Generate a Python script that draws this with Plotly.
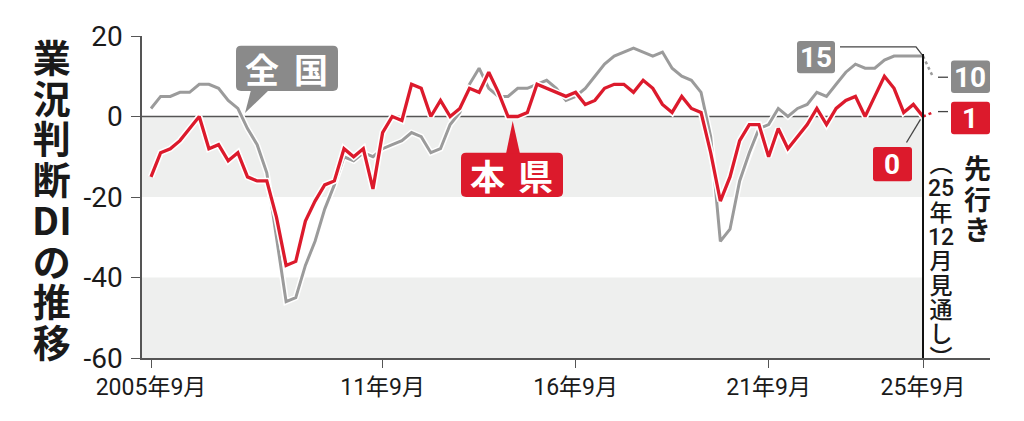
import plotly.graph_objects as go

# ---- data (quarterly, 2005年9月 .. 2025年9月) ----
honken = [-15, -9, -8, -6, -3, 0, -8, -7, -11, -9,
          -15, -16, -16, -25, -37, -36, -26, -21, -17, -16,
          -8, -10, -8, -18, -4, 0, -1, 8, 7, 0,
          4, 0, 2, 7, 6, 11, 6, 0, 0, 1,
          8, 7, 6, 5, 6, 3, 4, 7, 8, 8,
          6, 9, 7, 3, 1, 5, 2, 1, -9, -21,
          -15, -6, -2, -2, -10, -3, -8, -5, -2, 2,
          -2, 2, 4, 5, 0, 5, 10, 7, 1, 3,
          0]
zenkoku = [2, 5, 5, 6, 6, 8, 8, 7, 4, 2,
           -3, -7, -14, -30, -46, -45, -37, -31, -23, -17,
           -10, -11, -9, -10, -8, -7, -6, -4, -5, -9,
           -8, -2, 1, 8, 12, 7, 5, 5, 7, 7,
           8, 9, 7, 4, 5, 7, 10, 13, 15, 16,
           17, 16, 15, 16, 12, 10, 9, 6, -5, -31,
           -28, -16, -9, -3, -2, 2, 0, 2, 3, 6,
           5, 8, 11, 13, 12, 12, 14, 15, 15, 15,
           15]
honken_forecast = [0, 1]      # 25年9月 -> 25年12月見通し
zenkoku_forecast = [15, 10]
tick_pos = [0, 24, 44, 64, 80]
tick_labels = ["2005年9月", "11年9月", "16年9月", "21年9月", "25年9月"]
y_ticks = [20, 0, -20, -40, -60]
y_tick_labels = ["20", "0", "-20", "-40", "-60"]

RED = "#dc1a2c"
GRAY = "#9b9b9b"
BOXGRAY = "#8a8a8a"
BAND = "#eeefee"
CJK = "Noto Sans CJK JP"
NUM = "Roboto, Noto Sans CJK JP"

# plot area in (reference) window pixels
L, R, T, B = 142, 990, 30, 358
OFF = 8                     # page body margin
W, H = 1024 - 2 * OFF, 421 - 2 * OFF
XR = [(L - 151) / 9.65, (R - 151) / 9.65]


def X(px):
    return (px - L) / (R - L)


def Y(py):
    return (B - py) / (B - T)


def rrect(x0, y0, x1, y1, r=4):
    return (f"M {X(x0+r)} {Y(y0)} L {X(x1-r)} {Y(y0)} Q {X(x1)} {Y(y0)} {X(x1)} {Y(y0+r)} "
            f"L {X(x1)} {Y(y1-r)} Q {X(x1)} {Y(y1)} {X(x1-r)} {Y(y1)} "
            f"L {X(x0+r)} {Y(y1)} Q {X(x0)} {Y(y1)} {X(x0)} {Y(y1-r)} "
            f"L {X(x0)} {Y(y0+r)} Q {X(x0)} {Y(y0)} {X(x0+r)} {Y(y0)} Z")


def poly(pts):
    return "M " + " L ".join(f"{X(a)} {Y(b)}" for a, b in pts) + " Z"


xs = list(range(len(honken)))
xf = [xs[-1], xs[-1] + 1]

fig = go.Figure()
# gray (全国)
fig.add_trace(go.Scatter(x=xs, y=zenkoku, mode="lines", line=dict(color="white", width=6),
                         hoverinfo="skip", showlegend=False))
fig.add_trace(go.Scatter(x=xs, y=zenkoku, mode="lines", line=dict(color=GRAY, width=3),
                         name="全国", showlegend=False))
fig.add_trace(go.Scatter(x=xf, y=zenkoku_forecast, mode="lines",
                         line=dict(color=GRAY, width=2.5, dash="dot"), showlegend=False))
# red (本県)
fig.add_trace(go.Scatter(x=xs, y=honken, mode="lines", line=dict(color="white", width=6.5),
                         hoverinfo="skip", showlegend=False))
fig.add_trace(go.Scatter(x=xs, y=honken, mode="lines", line=dict(color=RED, width=3.3),
                         name="本県", showlegend=False))
fig.add_trace(go.Scatter(x=xf, y=honken_forecast, mode="lines",
                         line=dict(color=RED, width=2.5, dash="dot"), showlegend=False))

shapes = []
for y0, y1 in [(-20, 0), (-60, -40)]:
    shapes.append(dict(type="rect", xref="x", yref="y", x0=XR[0], x1=80, y0=y0, y1=y1,
                       fillcolor=BAND, line=dict(width=0), layer="below"))
shapes.append(dict(type="line", xref="x", yref="y", x0=XR[0], x1=80, y0=0, y1=0,
                   line=dict(color="#555555", width=1.5), layer="below"))
shapes.append(dict(type="line", xref="x", yref="y", x0=80, x1=80, y0=-60, y1=15.5,
                   line=dict(color="#111111", width=2)))

# label boxes
shapes.append(dict(type="path", xref="paper", yref="paper", path=rrect(236, 40, 338, 86, 5),
                   fillcolor=BOXGRAY, line=dict(width=0)))
shapes.append(dict(type="path", xref="paper", yref="paper",
                   path=poly([(251, 85), (269, 85), (245, 108.5)]), fillcolor=BOXGRAY, line=dict(width=0)))
shapes.append(dict(type="path", xref="paper", yref="paper", path=rrect(461, 149, 563, 194, 5),
                   fillcolor=RED, line=dict(width=0)))
shapes.append(dict(type="path", xref="paper", yref="paper",
                   path=poly([(506, 150), (520, 150), (512.7, 116.5)]), fillcolor=RED, line=dict(width=0)))
shapes.append(dict(type="path", xref="paper", yref="paper", path=rrect(797, 35, 835, 68, 3),
                   fillcolor=BOXGRAY, line=dict(width=0)))
shapes.append(dict(type="path", xref="paper", yref="paper", path=rrect(951, 55, 990, 88, 3),
                   fillcolor=BOXGRAY, line=dict(width=0)))
shapes.append(dict(type="path", xref="paper", yref="paper", path=rrect(951, 97, 990, 130, 3),
                   fillcolor=RED, line=dict(width=0)))
shapes.append(dict(type="path", xref="paper", yref="paper", path=rrect(873, 143, 912, 178, 3),
                   fillcolor=RED, line=dict(width=0)))
# connectors
for pts in [[(840, 41), (916, 41), (922, 49)], [(938, 72), (948, 72)],
            [(938, 107), (948, 107)], [(906.5, 138.5), (920.5, 115)]]:
    path = "M " + " L ".join(f"{X(a)} {Y(b)}" for a, b in pts)
    shapes.append(dict(type="path", xref="paper", yref="paper", path=path,
                       line=dict(color="#444444", width=1.3)))

ann = []


def txt(s, px, py, size, color="white", font=CJK, weight=700):
    ann.append(dict(text=s, x=X(px), y=Y(py), xref="paper", yref="paper", showarrow=False,
                    xanchor="center", yanchor="middle",
                    font=dict(family=font, size=size, color=color, weight=weight)))


def vcol(items, px, py_first, pitch, size, color="#1a1a1a", weight=700):
    """vertical (tategaki) column as one annotation: line pitch from base font size,
    glyph size from span style"""
    base = pitch / 1.3
    parts = []
    for s in items:
        fam = "Roboto" if s.isdigit() else CJK
        parts.append(f'<span style="font-size:{size}px;font-family:{fam}">{s}</span>')
    n = len(items)
    cy = py_first + pitch * (n - 1) / 2
    ann.append(dict(text="<br>".join(parts), x=X(px), y=Y(cy), xref="paper", yref="paper",
                    showarrow=False, xanchor="center", yanchor="middle", align="center",
                    font=dict(family=CJK, size=base, color=color, weight=weight)))


txt("全", 262, 63, 34)
txt("国", 311, 63, 34)
txt("本", 487, 171, 35)
txt("県", 535, 171, 35)
txt("15", 816, 52, 28, font=NUM)
txt("10", 970, 72, 28, font=NUM)
txt("1", 970, 114, 28, font=NUM)
txt("0", 892, 161, 28, font=NUM)

# vertical axis title
vcol(["業", "況", "判", "断", "DI", "の", "推", "移"], 52, 53, 40.7, 38)
# forecast note (vertical)
vcol(["先", "行", "き"], 977, 165, 30.5, 27)
vcol(["︵", "25", "年", "12", "月", "見", "通", "し", "︶"], 941, 160, 24.3, 23, weight=500)

fig.update_layout(
    width=W, height=H,
    margin=dict(l=L - OFF, r=W + OFF - R, t=T - OFF, b=H + OFF - B, pad=0),
    plot_bgcolor="white", paper_bgcolor="white",
    shapes=shapes, annotations=ann,
    xaxis=dict(range=XR, tickvals=tick_pos, ticktext=tick_labels, showgrid=False, zeroline=False,
               showline=True, linecolor="#555555", linewidth=1.5, ticks="outside", ticklen=8,
               tickcolor="#555555", tickwidth=1.2,
               tickfont=dict(family=NUM, size=23, color="#1a1a1a")),
    yaxis=dict(range=[-60, 20], tickvals=y_ticks, ticktext=y_tick_labels, showgrid=False,
               zeroline=False, showline=True, linecolor="#555555", linewidth=1.5,
               ticks="outside", ticklen=9, tickcolor="#555555", tickwidth=1.2,
               ticklabelstandoff=3,
               tickfont=dict(family=NUM, size=28, color="#1a1a1a")),
)

fig.write_html("out.html")
